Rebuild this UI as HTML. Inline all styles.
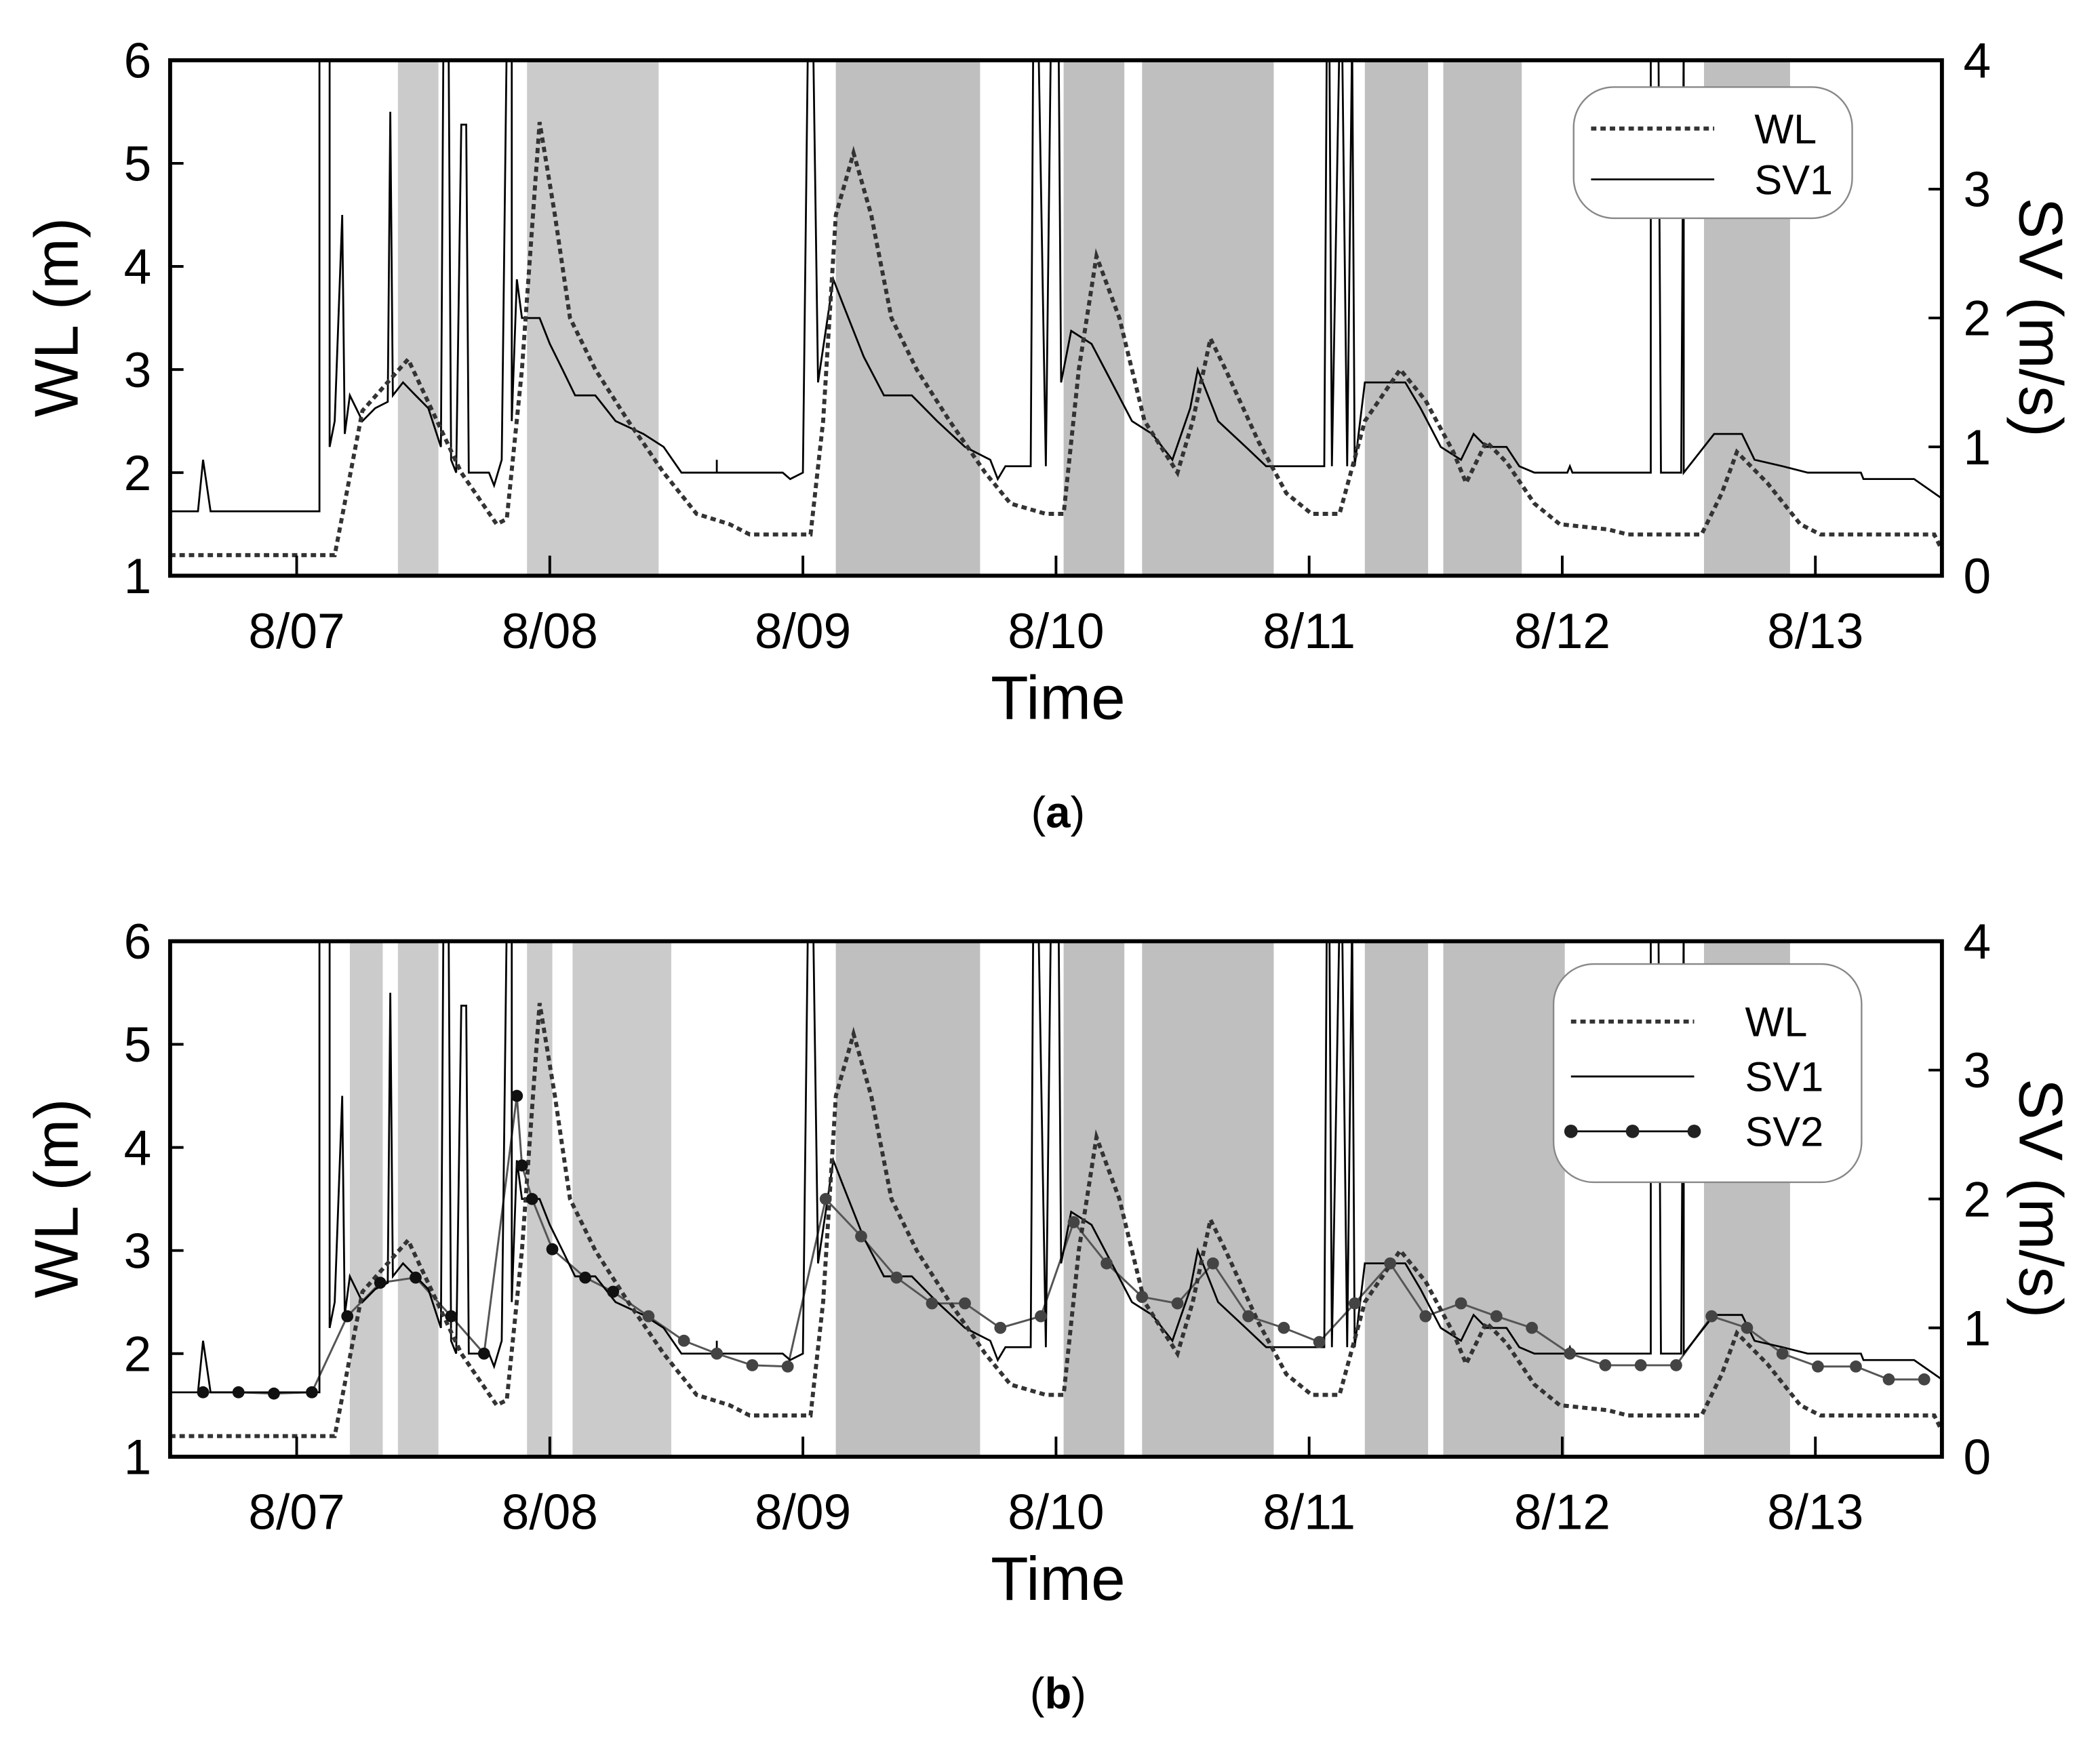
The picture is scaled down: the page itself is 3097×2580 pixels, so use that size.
<!DOCTYPE html>
<html><head><meta charset="utf-8"><style>
html,body{margin:0;padding:0;background:#fff}
svg{display:block}
text{font-family:"Liberation Sans",sans-serif;fill:#000}
</style></head><body>
<svg id="chart" width="3097" height="2580" viewBox="0 0 1568 1306.3" xmlns="http://www.w3.org/2000/svg"></svg>
<script>
// ---- data ----
const dayTicks = [7,8,9,10,11,12,13];
const dayLabels = ["8/07","8/08","8/09","8/10","8/11","8/12","8/13"];
const wlTicks = [1,2,3,4,5,6];
const svTicks = [0,1,2,3,4];
const bandsA = [[7.40,7.56],[7.91,8.43],[9.13,9.70],[10.03,10.27],[10.34,10.86],[11.22,11.47],[11.53,11.84],[12.56,12.90]];
const bandsB = [[7.21,7.34],[7.40,7.56],[7.91,8.01],[8.09,8.48],[9.13,9.70],[10.03,10.27],[10.34,10.86],[11.22,11.47],[11.53,12.01],[12.56,12.90]];
const wlTime = [6.50,7.15,7.26,7.44,7.65,7.79,7.83,7.89,7.96,8.02,8.08,8.18,8.31,8.45,8.58,8.71,8.79,9.03,9.08,9.13,9.20,9.27,9.35,9.45,9.58,9.72,9.82,9.96,10.03,10.09,10.16,10.25,10.35,10.48,10.54,10.61,10.67,10.80,10.91,11.01,11.12,11.22,11.36,11.46,11.57,11.62,11.70,11.78,11.89,11.99,12.18,12.26,12.55,12.63,12.69,12.81,12.94,13.02,13.47,13.50];
const wlVal = [1.2,1.2,2.6,3.1,2.0,1.5,1.55,3.0,5.4,4.5,3.5,3.0,2.5,2.0,1.6,1.5,1.4,1.4,2.5,4.5,5.1,4.5,3.5,3.0,2.5,2.0,1.7,1.6,1.6,3.0,4.1,3.5,2.5,2.0,2.5,3.3,3.0,2.3,1.8,1.6,1.6,2.5,3.0,2.7,2.2,1.9,2.3,2.1,1.7,1.5,1.45,1.4,1.4,1.8,2.2,1.9,1.5,1.4,1.4,1.25];
const sv1Time = [6.50,6.61,6.63,6.66,7.09,7.09,7.13,7.13,7.15,7.18,7.19,7.21,7.26,7.31,7.36,7.37,7.38,7.42,7.47,7.52,7.57,7.58,7.60,7.61,7.63,7.65,7.67,7.68,7.76,7.78,7.81,7.83,7.85,7.85,7.87,7.89,7.96,8.00,8.05,8.10,8.18,8.26,8.37,8.45,8.52,8.66,8.66,8.66,8.92,8.95,9.00,9.02,9.04,9.06,9.12,9.16,9.24,9.32,9.43,9.53,9.64,9.74,9.77,9.80,9.90,9.91,9.93,9.96,9.98,10.01,10.02,10.06,10.14,10.22,10.30,10.38,10.46,10.53,10.56,10.64,10.75,10.83,10.91,11.06,11.07,11.08,11.09,11.12,11.13,11.15,11.17,11.18,11.22,11.28,11.38,11.44,11.52,11.60,11.65,11.70,11.78,11.83,11.89,12.02,12.03,12.04,12.35,12.35,12.38,12.39,12.47,12.48,12.48,12.60,12.71,12.76,12.87,12.97,13.18,13.19,13.39,13.50];
const sv1Val = [0.5,0.5,0.9,0.5,0.5,4.5,4.5,1.0,1.2,2.8,1.1,1.4,1.2,1.3,1.35,3.6,1.4,1.5,1.4,1.3,1.0,4.2,4.2,0.9,0.8,3.5,3.5,0.8,0.8,0.7,0.9,4.2,4.2,1.2,2.3,2.0,2.0,1.8,1.6,1.4,1.4,1.2,1.1,1.0,0.8,0.8,0.9,0.8,0.8,0.75,0.8,4.2,4.2,1.5,2.3,2.1,1.7,1.4,1.4,1.2,1.0,0.9,0.75,0.85,0.85,4.2,4.2,0.85,4.2,4.2,1.5,1.9,1.8,1.5,1.2,1.1,0.9,1.3,1.6,1.2,1.0,0.85,0.85,0.85,4.2,4.2,0.85,4.2,4.2,0.85,4.2,0.85,1.5,1.5,1.5,1.3,1.0,0.9,1.1,1.0,1.0,0.85,0.8,0.8,0.85,0.8,0.8,4.2,4.2,0.8,0.8,4.2,0.8,1.1,1.1,0.9,0.85,0.8,0.8,0.75,0.75,0.6];
const sv2Time = [6.63,6.77,6.91,7.06,7.20,7.33,7.47,7.61,7.74,7.87,7.89,7.93,8.01,8.14,8.25,8.39,8.53,8.66,8.80,8.94,9.09,9.23,9.37,9.51,9.64,9.78,9.94,10.07,10.20,10.34,10.48,10.62,10.76,10.90,11.04,11.18,11.32,11.46,11.60,11.74,11.88,12.03,12.17,12.31,12.45,12.59,12.73,12.87,13.01,13.16,13.29,13.43];
const sv2Val = [0.5,0.5,0.49,0.5,1.09,1.35,1.39,1.09,0.8,2.8,2.26,2.0,1.61,1.39,1.28,1.09,0.9,0.8,0.71,0.7,2.0,1.71,1.39,1.19,1.19,1.0,1.09,1.82,1.5,1.24,1.19,1.5,1.09,1.0,0.89,1.19,1.5,1.09,1.19,1.09,1.0,0.8,0.71,0.71,0.71,1.09,1.0,0.8,0.7,0.7,0.6,0.6];

const NS="http://www.w3.org/2000/svg";
const svg=document.getElementById('chart');
const X0=127,X1=1450,D0=6.5,D1=13.5;
const xs=d=>X0+(d-D0)/(D1-D0)*(X1-X0);
function mk(tag,attrs,parent){const e=document.createElementNS(NS,tag);for(const k in attrs)e.setAttribute(k,attrs[k]);(parent||svg).appendChild(e);return e;}

function panel(id,top,bands,withSV2,label,legend){
  const bot=top+385;
  const yW=v=>bot-(v-1)/5*385;
  const yS=v=>bot-v/4*385;
  const g=mk('g',{});
  
  
  const cp=mk('clipPath',{id:'clip'+id},g);
  mk('rect',{x:X0,y:top,width:X1-X0,height:385},cp);
  const pg=mk('g',{'clip-path':'url(#clip'+id+')'},g);
  bands.forEach((b,i)=>{
    const r=mk('rect',{x:xs(b[0]),y:top,width:xs(b[1])-xs(b[0]),height:385,fill:(i<2||(withSV2&&i<4))?'#cbcbcb':'#bfbfbf'},pg);
    
    
  });
  const pts=(t,v,f)=>t.map((d,i)=>xs(d).toFixed(1)+','+f(v[i]).toFixed(1)).join(' ');
  if(withSV2){
    const l2=mk('polyline',{points:pts(sv2Time,sv2Val,yS),fill:'none',stroke:'#555','stroke-width':1.5},pg);
    
    
  }
  const s1=mk('polyline',{points:pts(sv1Time,sv1Val,yS),fill:'none',stroke:'#000','stroke-width':1.4},pg);
  
  
  const w=mk('polyline',{points:pts(wlTime,wlVal,yW),fill:'none',stroke:'#333','stroke-width':3,'stroke-dasharray':'4,3'},pg);
  
  
  if(withSV2){
    sv2Time.forEach((d,i)=>{
      const c=mk('circle',{cx:xs(d),cy:yS(sv2Val[i]),r:4.5,fill:i<15?'#111':'#444'},pg);
      
      
    });
  }
  const fr=mk('rect',{x:X0,y:top,width:X1-X0,height:385,fill:'none',stroke:'#000','stroke-width':3},g);
  
  
  dayTicks.forEach((d,i)=>{
    mk('line',{x1:xs(d),x2:xs(d),y1:bot,y2:bot-15,stroke:'#000','stroke-width':2},g);
    const t=mk('text',{x:xs(d),y:bot+54,'font-size':37,'text-anchor':'middle'},g);
    t.textContent=dayLabels[i];
    
    
  });
  wlTicks.forEach(v=>{
    mk('line',{x1:X0,x2:X0+10,y1:yW(v),y2:yW(v),stroke:'#000','stroke-width':2},g);
    const t=mk('text',{x:X0-14,y:yW(v)+13,'font-size':37,'text-anchor':'end'},g);
    t.textContent=v;
    
    
  });
  svTicks.forEach(v=>{
    mk('line',{x1:X1,x2:X1-10,y1:yS(v),y2:yS(v),stroke:'#000','stroke-width':2},g);
    const t=mk('text',{x:X1+16,y:yS(v)+13,'font-size':37},g);
    t.textContent=v;
    
    
  });
  const yt=mk('text',{x:0,y:0,'font-size':46,'text-anchor':'middle',transform:`translate(58,${top+192}) rotate(-90)`},g);
  yt.textContent='WL (m)';
  
  
  const st=mk('text',{x:0,y:0,'font-size':46,'text-anchor':'middle',transform:`translate(1508,${top+192}) rotate(90)`},g);
  st.textContent='SV (m/s)';
  
  
  const xt=mk('text',{x:790,y:bot+107,'font-size':46,'text-anchor':'middle'},g);
  xt.textContent='Time';
  
  
  const cap=mk('text',{x:790,y:bot+188,'font-size':33,'text-anchor':'middle','font-family':'Liberation Serif, serif'},g);
  cap.innerHTML='(<tspan font-weight="bold">'+label+'</tspan>)';
  
  
  const lg=mk('g',{},g);
  
  
  mk('rect',{x:legend.x,y:legend.y,width:legend.w,height:legend.h,rx:30,fill:'#fff',stroke:'#888','stroke-width':1.2},lg);
  legend.items.forEach((it,i)=>{
    const yy=legend.y+legend.first+i*legend.gap;
    const e=mk('g',{},lg);
    
    
    const lx1=legend.x+13,lx2=legend.x+105;
    if(it==='WL')mk('line',{x1:lx1,x2:lx2,y1:yy,y2:yy,stroke:'#333','stroke-width':3,'stroke-dasharray':'4,3'},e);
    else mk('line',{x1:lx1,x2:lx2,y1:yy,y2:yy,stroke:'#000','stroke-width':1.4},e);
    if(it==='SV2'){[lx1,(lx1+lx2)/2,lx2].forEach(cx=>mk('circle',{cx:cx,cy:yy,r:5,fill:'#222'},e));}
    const t=mk('text',{x:legend.x+legend.tx,y:yy+11,'font-size':31,fill:'#333'},e);
    t.textContent=it;
  });
}
panel('a',45,bandsA,false,'a',{x:1175,y:65,w:208,h:98,first:31,gap:38,tx:135,items:['WL','SV1']});
panel('b',703,bandsB,true,'b',{x:1160,y:720,w:230,h:163,first:43,gap:41,tx:143,items:['WL','SV1','SV2']});
</script>
</body></html>
